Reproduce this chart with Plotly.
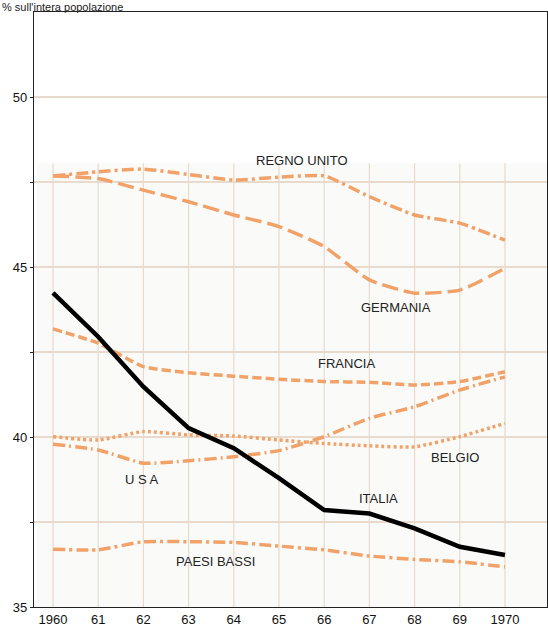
import plotly.graph_objects as go

years = [1960, 1961, 1962, 1963, 1964, 1965, 1966, 1967, 1968, 1969, 1970]
tick_labels = ["1960", "61", "62", "63", "64", "65", "66", "67", "68", "69", "1970"]

regno_unito = [47.68, 47.80, 47.88, 47.72, 47.56, 47.64, 47.68, 47.07, 46.53, 46.29, 45.79]
germania = [47.68, 47.60, 47.26, 46.92, 46.53, 46.19, 45.60, 44.62, 44.23, 44.32, 44.96]
francia = [43.18, 42.76, 42.07, 41.89, 41.79, 41.70, 41.63, 41.61, 41.53, 41.63, 41.92]
usa = [39.79, 39.62, 39.23, 39.30, 39.42, 39.60, 40.01, 40.55, 40.89, 41.38, 41.77]
belgio = [40.01, 39.91, 40.16, 40.06, 40.03, 39.91, 39.81, 39.74, 39.71, 40.01, 40.40]
italia = [44.24, 42.95, 41.48, 40.26, 39.67, 38.79, 37.85, 37.75, 37.31, 36.77, 36.53]
paesi_bassi = [36.70, 36.68, 36.92, 36.92, 36.90, 36.79, 36.68, 36.50, 36.40, 36.33, 36.18]

y_ticks = [35, 37.5, 40, 42.5, 45, 47.5, 50]
y_tick_labels = ["35", "", "40", "", "45", "", "50"]

ORANGE = "rgb(241,162,105)"
GRID = "rgb(232,218,204)"

fig = go.Figure()

series = [
    (regno_unito, "12px,4px,3px,4px"),
    (germania, "16px,6px"),
    (francia, "9px,4px"),
    (usa, "12px,4px,2px,4px"),
    (belgio, "3px,3px"),
    (paesi_bassi, "12px,4px,3px,4px"),
]
for vals, dash in series:
    fig.add_trace(go.Scatter(x=years, y=vals, mode="lines",
                             line=dict(color=ORANGE, width=3.5, dash=dash, shape="spline", smoothing=0.5),
                             hoverinfo="skip", showlegend=False))

fig.add_trace(go.Scatter(x=years, y=italia, mode="lines",
                         line=dict(color="black", width=4.5),
                         hoverinfo="skip", showlegend=False))

fig.add_shape(type="rect", xref="x", yref="y", x0=1959.65, x1=1970.95, y0=35, y1=48.05,
              fillcolor="rgb(250,251,249)", line=dict(width=0), layer="below")
for yr in years:
    fig.add_shape(type="line", xref="x", yref="y", x0=yr, x1=yr, y0=35, y1=48.05,
                  line=dict(color=GRID, width=1.2), layer="below")

labels = [
    ("REGNO UNITO", 1965.5, 48.12),
    ("GERMANIA", 1967.6, 43.8),
    ("FRANCIA", 1966.5, 42.15),
    ("BELGIO", 1968.9, 39.4),
    ("U S A", 1961.97, 38.75),
    ("ITALIA", 1967.2, 38.2),
    ("PAESI BASSI", 1963.6, 36.35),
]
for txt, xx, yy in labels:
    fig.add_annotation(x=xx, y=yy, text=txt, showarrow=False, xref="x", yref="y",
                       font=dict(family="Liberation Sans, Arial", size=13, color="#222"))

fig.add_annotation(x=-0.064, y=1.0202, xref="paper", yref="paper", text="% sull'intera popolazione",
                   showarrow=False, xanchor="left", yanchor="top", borderpad=0,
                   font=dict(family="Liberation Sans, Arial", size=11, color="#222"))

fig.update_layout(
    width=548, height=631,
    margin=dict(l=34, r=1, t=12, b=24),
    paper_bgcolor="white", plot_bgcolor="white",
    font=dict(family="Liberation Sans, Arial", size=13, color="#111"),
    xaxis=dict(range=[1959.58, 1970.93], tickvals=years, ticktext=tick_labels,
               showgrid=False, zeroline=False, showline=True, linecolor="#222", linewidth=1.2,
               mirror=True, ticks="", tickfont=dict(size=13)),
    yaxis=dict(range=[35, 52.5], tickvals=y_ticks, ticktext=y_tick_labels,
               showgrid=True, gridcolor=GRID, gridwidth=1.5, zeroline=False,
               showline=True, linecolor="#222", linewidth=1.2, mirror=True,
               ticks="outside", ticklen=3, tickcolor="#222", tickfont=dict(size=13)),
)

fig.write_html("out.html", config={"displayModeBar": False},
               post_script="document.body.style.margin='0';document.body.style.overflow='hidden';")
